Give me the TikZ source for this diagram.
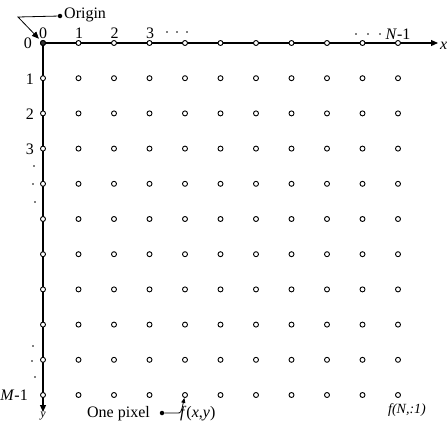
\documentclass[tikz,border=0pt]{standalone}
\usepackage{fontspec}
\setmainfont{Liberation Serif}
\usetikzlibrary{arrows.meta}
\begin{document}
\begin{tikzpicture}[x=1pt,y=-1pt,
  pix/.style={circle,draw,fill=white,inner sep=0pt,minimum size=5pt,line width=0.9pt},
  lab/.style={font=\fontsize{16}{18}\selectfont,inner sep=0pt},
  ax/.style={line width=1.1pt,-{Triangle[length=7pt,width=6pt]}},
  ann/.style={line width=0.8pt},
  edot/.style={circle,fill=black,inner sep=0pt,minimum size=1.6pt}]
\useasboundingbox (0,0) rectangle (447,423);
% axes
\coordinate (O) at (43,43);
\coordinate (xend) at (438,43);
\coordinate (yend) at (43,412);
\draw[ax] (O) -- (xend);
\draw[ax] (O) -- (yend);
% grid of pixels
\foreach \i in {0,...,10}
  \foreach \j in {0,...,10}
    \node[pix] (p-\i-\j) at ({43+35.5*\i},{43+35.2*\j}) {};
\node[pix,fill=black!80] (p-0-0) at (43,43) {};
% x labels
\node[lab,anchor=base] (x0) at (43,38) {0};
\node[lab,anchor=base] (x1) at (79,38) {1};
\node[lab,anchor=base] (x2) at (114.5,38) {2};
\node[lab,anchor=base] (x3) at (150,38) {3};
\node[edot] (xd1) at (167,32) {};
\node[edot] (xd2) at (177,32) {};
\node[edot] (xd3) at (187,32) {};
\node[edot] (xd4) at (356,34) {};
\node[edot] (xd5) at (368,34) {};
\node[edot] (xd6) at (380,34) {};
\node[lab,anchor=base] (xN) at (398,39) {\textit{N}-1};
\node[lab,anchor=west] (xlab) at (440,46) {\textit{x}};
% y labels
\node[lab,anchor=base east] (y0) at (32,48) {0};
\node[lab,anchor=base east] (y1) at (34,84) {1};
\node[lab,anchor=base east] (y2) at (34,119) {2};
\node[lab,anchor=base east] (y3) at (34,154) {3};
\node[edot] (yd1) at (34,166) {};
\node[edot] (yd2) at (33,184) {};
\node[edot] (yd3) at (35,202) {};
\node[edot] (yd4) at (33,346) {};
\node[edot] (yd5) at (32,361) {};
\node[edot] (yd6) at (35,377) {};
\node[lab,anchor=base east] (yM) at (28,400) {\textit{M}-1};
\node[lab,anchor=north,font=\fontsize{12}{14}\selectfont] (ylab) at (43,412) {\textit{y}};
% origin annotation
\node[circle,fill=black,inner sep=0pt,minimum size=4.5pt] (ordot) at (60,16) {};
\node[lab,anchor=west] (origin) at (64,15) {Origin};
\coordinate (obend) at (18,17);
\draw[ann,-{Triangle[length=7pt,width=6pt]},shorten >=3pt] (ordot) -- (obend) -- (p-0-0);
% one pixel annotation
\node[lab,anchor=east] (onepix) at (150,414) {One pixel};
\node[circle,fill=black,inner sep=0pt,minimum size=4.5pt] (pxdot) at (162,413) {};
\coordinate (pxbend) at (177,413);
\draw[ann,-{Triangle[length=5pt,width=4pt]}] (pxdot) -- (pxbend) .. controls (181,413) .. (p-4-10);
\node[lab,anchor=west] (fxy) at (180,414) {\textit{f}(\textit{x},\textit{y})};
\node[lab,anchor=center,font=\fontsize{14}{16}\selectfont\itshape] (fNM) at (407,410) {f(N,:1)};
\end{tikzpicture}
\end{document}
